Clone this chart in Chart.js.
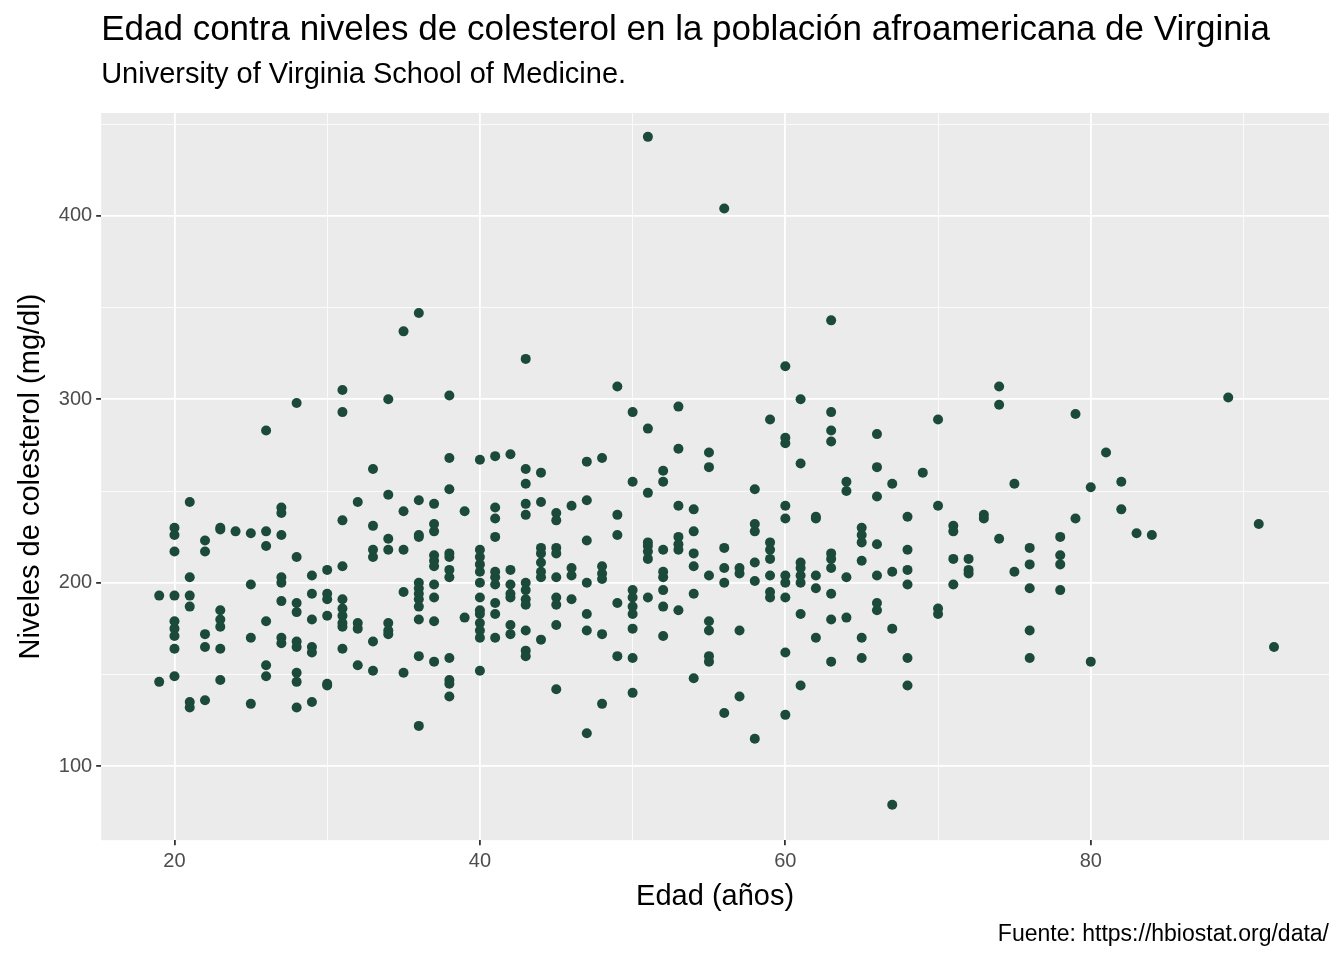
<!DOCTYPE html>
<html><head><meta charset="utf-8">
<script src="https://cdn.jsdelivr.net/npm/chart.js@4"></script>
<style>html,body{margin:0;background:#fff}#wrap{width:1344px;height:960px}</style>
</head><body><div id="wrap"><canvas id="c"></canvas></div>
<script>
// age -> list of cholesterol values
const ages = [19,20,21,22,23,24,25,26,27,28,29,30,31,32,33,34,35,36,37,38,39,40,41,42,43,44,45,46,47,48,49,50,51,52,53,54,55,56,57,58,59,60,61,62,63,64,65,66,67,68,69,70,71,72,73,74,75,76,78,79,80,81,82,83,84,89,91,92];
const chol = [
  [193,146],
  [230,226,217,193,179,175,171,164,149],
  [244,203,193,187,135,132],
  [223,217,172,165,136],
  [230,229,185,180,176,164,147],
  [228],
  [227,199,170,134],
  [283,228,220,179,155,149],
  [241,238,226,203,200,190,170,167],
  [298,214,189,184,168,165,151,146,132],
  [204,194,180,165,162,135],
  [207,194,191,182,145,144],
  [305,293,234,209,191,186,182,178,176,164],
  [244,178,175,155],
  [262,231,218,214,168,152],
  [300,248,224,218,178,174,172],
  [337,239,218,195,151],
  [347,245,226,225,200,197,194,191,187,180,160,122],
  [243,232,228,215,212,209,199,192,179,157],
  [302,268,251,216,214,207,203,159,147,145,138],
  [239,181],
  [267,218,214,210,206,200,192,185,183,178,174,170,152],
  [269,241,235,225,206,203,199,189,183,170],
  [270,207,199,194,192,177,172],
  [322,262,254,243,237,200,196,191,188,174,163,160],
  [260,244,219,216,211,206,203,169],
  [238,234,219,216,203,192,188,177,142],
  [242,208,204,191],
  [266,245,223,200,183,174,118],
  [268,209,205,202,172,134],
  [307,237,226,189,160],
  [293,255,196,192,187,183,175,159,140],
  [443,284,249,222,220,217,213,192],
  [261,255,218,206,203,196,187,171],
  [296,273,242,225,221,218,185],
  [240,228,216,209,194,148],
  [271,263,204,179,174,160,157],
  [404,219,208,200,129],
  [208,205,174,138],
  [251,232,228,211,201,115],
  [289,222,218,213,204,195,192],
  [318,279,276,242,235,204,200,192,162,128],
  [300,265,211,208,204,200,183,144],
  [236,235,204,197,170],
  [343,293,283,277,216,213,208,194,180,157],
  [255,250,203,181],
  [230,226,222,212,170,159],
  [281,263,247,221,204,189,185],
  [254,206,175,79],
  [236,218,207,199,159,144],
  [260],
  [289,242,186,183],
  [231,228,213,199],
  [213,207,205],
  [237,235],
  [307,297,224],
  [254,206],
  [219,210,197,174,159],
  [225,215,210,196],
  [292,235],
  [252,157],
  [271],
  [255,240],
  [227],
  [226],
  [301],
  [232],
  [165]
];
const xTicks = [20,30,40,50,60,70,80,90];
const yTicks = [100,150,200,250,300,350,400,450];
const xMajor = [20,40,60,80];
const yMajor = [100,200,300,400];

const points = [];
ages.forEach((a, i) => chol[i].forEach(v => points.push({ x: a, y: v })));

const decor = {
  id: 'decor',
  beforeDraw(chart) {
    const { ctx, chartArea: a } = chart;
    ctx.save();
    ctx.fillStyle = '#EBEBEB';
    ctx.fillRect(a.left, a.top, a.right - a.left, a.bottom - a.top);
    ctx.restore();
  },
  afterDraw(chart) {
    const { ctx, chartArea: a } = chart;
    ctx.save();
    ctx.fillStyle = '#000';
    ctx.textBaseline = 'alphabetic';
    ctx.font = '35px "Liberation Sans", Arial, sans-serif';
    ctx.fillText('Edad contra niveles de colesterol en la población afroamericana de Virginia', a.left, 40);
    ctx.font = '29px "Liberation Sans", Arial, sans-serif';
    ctx.fillText('University of Virginia School of Medicine.', a.left, 83);
    ctx.font = '23px "Liberation Sans", Arial, sans-serif';
    ctx.textAlign = 'right';
    ctx.fillText('Fuente: https://hbiostat.org/data/', 1329, 941);
    ctx.restore();
  }
};

const isMajor = ctx => ctx.tick && ctx.tick.label !== '';
const gridW = ctx => (isMajor(ctx) ? 1.8 : 0.8);
const tickC = ctx => (isMajor(ctx) ? '#333333' : 'rgba(0,0,0,0)');

new Chart(document.getElementById('c'), {
  type: 'scatter',
  data: { datasets: [{ data: points, backgroundColor: '#1B4A3B', borderWidth: 0, pointRadius: 5, pointHoverRadius: 5 }] },
  options: {
    responsive: true, maintainAspectRatio: false, animation: false,
    layout: { padding: { top: 113, left: 10, right: 15, bottom: 42 } },
    plugins: { legend: { display: false }, tooltip: { enabled: false } },
    scales: {
      x: {
        min: 15.2, max: 95.6,
        afterBuildTicks: s => { s.ticks = xTicks.map(v => ({ value: v })); },
        ticks: { callback: v => xMajor.includes(v) ? String(v) : '', color: '#4D4D4D', font: { size: 20, family: 'Liberation Sans' }, maxRotation: 0, autoSkip: false, padding: 4 },
        grid: { color: '#FFFFFF', lineWidth: gridW, drawTicks: true, tickLength: 5, tickColor: tickC },
        border: { display: false },
        title: { display: true, text: 'Edad (años)', color: '#000', font: { size: 29, family: 'Liberation Sans' }, padding: { top: 2 } }
      },
      y: {
        min: 59.7, max: 456,
        afterBuildTicks: s => { s.ticks = yTicks.map(v => ({ value: v })); },
        ticks: { callback: v => yMajor.includes(v) ? String(v) : '', color: '#4D4D4D', font: { size: 20, family: 'Liberation Sans' }, autoSkip: false, padding: 4 },
        grid: { color: '#FFFFFF', lineWidth: gridW, drawTicks: true, tickLength: 5, tickColor: tickC },
        border: { display: false },
        title: { display: true, text: 'Niveles de colesterol (mg/dl)', color: '#000', font: { size: 29, family: 'Liberation Sans' }, padding: { bottom: 6 } }
      }
    }
  },
  plugins: [decor]
});
</script></body></html>
